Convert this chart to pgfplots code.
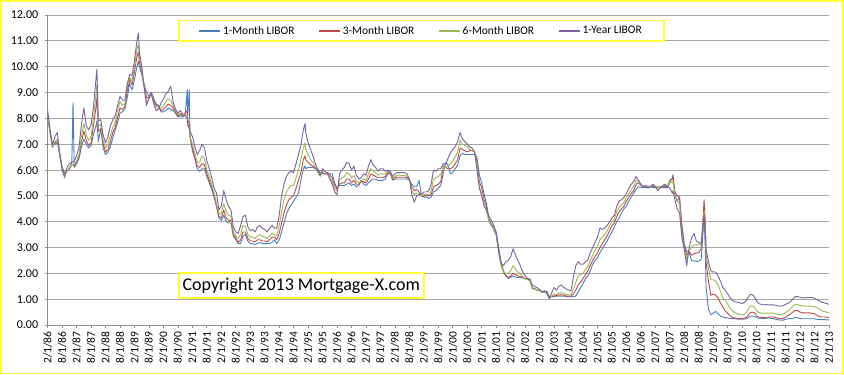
\documentclass[border=0pt]{standalone}
\usepackage{pgfplots}
\pgfplotsset{compat=1.18}
\usepackage{pgfplotstable}
\usepackage{fontspec}
\setmainfont{Carlito}
\definecolor{c1}{HTML}{4A7EBB}
\definecolor{c3}{HTML}{BE4B48}
\definecolor{c6}{HTML}{98B954}
\definecolor{cy}{HTML}{7D60A0}
\definecolor{bord}{HTML}{FFFF33}
\definecolor{gridc}{HTML}{A6A6A6}
\definecolor{axc}{HTML}{8C8C8C}
\pgfplotstableread{
m a b c d
0 8.05 8.05 8.10 8.30
1 7.50 7.45 7.40 7.55
2 6.95 6.90 6.85 6.95
3 7.00 7.05 7.10 7.30
4 7.05 7.10 7.20 7.45
5 6.60 6.60 6.60 6.65
6 6.10 6.05 6.00 6.00
7 5.90 5.85 5.80 5.70
8 5.95 5.95 5.95 6.10
9 6.05 6.05 6.10 6.25
10 6.30 6.20 6.20 6.30
10.5 8.60 6.20 6.22 6.32
11 6.10 6.15 6.20 6.35
12 6.25 6.30 6.35 6.55
13 6.45 6.50 6.60 6.90
14 6.90 7.10 7.30 7.75
15 7.20 7.50 7.80 8.40
16 7.00 7.15 7.35 7.70
17 6.85 6.95 7.15 7.55
18 6.95 7.05 7.30 7.75
19 7.40 7.75 8.00 8.45
20 7.70 8.40 8.90 9.50
20.4 7.90 8.80 9.30 9.90
21 7.10 7.50 7.70 7.90
22 7.60 7.60 7.75 7.95
23 6.85 7.00 7.15 7.35
24 6.60 6.70 6.85 7.05
25 6.70 6.80 7.00 7.30
26 6.90 7.10 7.35 7.70
27 7.25 7.45 7.65 7.95
28 7.55 7.65 7.85 8.10
29 7.85 8.05 8.30 8.50
30 8.20 8.40 8.65 8.85
31 8.25 8.35 8.50 8.70
32 8.35 8.45 8.55 8.70
33 8.80 9.05 9.20 9.35
34 9.35 9.50 9.60 9.70
35 9.10 9.30 9.45 9.65
36 9.50 9.80 10.00 10.25
37 10.00 10.40 10.70 11.00
37.6 10.20 10.55 10.85 11.30
38 10.00 10.20 10.40 10.60
39 9.70 9.80 9.90 10.00
40 9.30 9.25 9.20 9.20
41 9.00 8.80 8.60 8.50
42 8.85 8.80 8.75 8.80
43 9.00 9.00 8.95 8.95
44 8.75 8.70 8.60 8.55
45 8.55 8.50 8.40 8.30
46 8.50 8.45 8.40 8.35
47 8.25 8.30 8.40 8.60
48 8.25 8.35 8.50 8.75
49 8.30 8.45 8.65 8.95
50 8.40 8.55 8.75 9.05
51 8.35 8.50 8.70 9.25
52 8.30 8.40 8.50 8.65
53 8.20 8.25 8.30 8.35
54 8.05 8.10 8.15 8.20
55 8.10 8.15 8.20 8.30
56 8.05 8.10 8.10 8.15
57 8.15 8.20 8.15 8.10
57.9 9.10 8.30 8.10 8.00
58 7.95 7.95 7.85 7.75
58.7 9.10 7.80 7.65 7.60
59 7.35 7.25 7.30 7.50
60 6.75 6.85 7.00 7.30
61 6.45 6.50 6.65 6.90
62 6.05 6.15 6.30 6.60
63 5.95 6.10 6.30 6.75
64 6.05 6.25 6.55 7.00
65 6.05 6.20 6.45 6.85
66 5.75 5.85 6.00 6.35
67 5.50 5.60 5.75 6.05
68 5.25 5.35 5.45 5.70
69 4.95 5.00 5.10 5.30
70 4.60 4.60 4.70 5.10
71 4.15 4.20 4.30 4.45
72 4.05 4.15 4.30 4.60
73 4.25 4.45 4.70 5.20
74 4.00 4.15 4.40 4.85
75 3.95 4.05 4.25 4.60
76 3.95 4.05 4.20 4.45
77 3.45 3.50 3.60 3.80
78 3.30 3.35 3.45 3.60
79 3.15 3.20 3.35 3.55
80 3.15 3.30 3.50 3.85
81 3.45 3.60 3.85 4.20
82 3.50 3.60 3.80 4.25
83 3.25 3.35 3.50 3.80
84 3.15 3.25 3.40 3.65
85 3.15 3.25 3.40 3.70
86 3.12 3.22 3.35 3.60
87 3.15 3.30 3.45 3.80
88 3.20 3.30 3.50 3.85
89 3.15 3.25 3.45 3.75
90 3.15 3.25 3.40 3.70
91 3.15 3.22 3.35 3.60
92 3.15 3.30 3.45 3.75
93 3.20 3.40 3.55 3.85
94 3.30 3.40 3.50 3.75
95 3.15 3.30 3.45 3.75
96 3.30 3.55 3.85 4.25
97 3.60 3.95 4.40 5.00
98 3.95 4.35 4.85 5.45
99 4.30 4.65 5.15 5.75
100 4.50 4.85 5.30 5.90
101 4.65 4.95 5.40 5.95
102 4.80 5.00 5.40 5.90
103 4.95 5.30 5.70 6.25
104 5.10 5.60 6.00 6.60
105 5.60 5.90 6.40 6.95
106 6.05 6.40 6.85 7.55
106.7 6.15 6.55 7.05 7.80
107 6.05 6.40 6.80 7.45
108 6.10 6.30 6.60 7.05
109 6.10 6.20 6.40 6.80
110 6.10 6.15 6.30 6.55
111 6.05 6.05 6.10 6.25
112 6.05 5.95 5.90 6.00
113 5.90 5.80 5.75 5.80
114 5.85 5.90 5.95 6.05
115 5.85 5.85 5.85 5.95
116 5.90 5.90 5.85 5.85
117 5.85 5.80 5.70 5.65
118 5.85 5.70 5.55 5.45
119 5.50 5.40 5.25 5.15
120 5.30 5.25 5.20 5.05
121 5.40 5.45 5.60 5.85
122 5.40 5.50 5.70 6.00
123 5.40 5.50 5.75 6.10
124 5.45 5.65 5.90 6.30
125 5.50 5.65 5.85 6.25
126 5.40 5.50 5.70 6.00
127 5.45 5.60 5.80 6.15
128 5.35 5.45 5.55 5.80
129 5.40 5.45 5.50 5.65
130 5.60 5.55 5.60 5.70
131 5.45 5.55 5.65 5.85
132 5.40 5.50 5.60 5.80
133 5.50 5.65 5.85 6.15
134 5.60 5.85 6.05 6.40
135 5.65 5.80 5.95 6.20
136 5.65 5.75 5.90 6.10
137 5.60 5.70 5.80 5.95
138 5.60 5.70 5.85 6.05
139 5.60 5.70 5.85 6.05
140 5.65 5.75 5.85 5.95
141 5.85 5.90 5.95 6.00
142 5.95 5.85 5.90 5.95
143 5.60 5.65 5.70 5.75
144 5.65 5.70 5.75 5.85
145 5.65 5.72 5.80 5.90
146 5.65 5.72 5.80 5.90
147 5.65 5.72 5.78 5.90
148 5.65 5.72 5.80 5.90
149 5.65 5.70 5.75 5.85
150 5.60 5.65 5.65 5.65
151 5.45 5.35 5.20 5.05
152 5.35 5.20 5.05 4.75
153 5.35 5.25 5.10 5.00
154 5.60 5.15 5.10 5.05
155 5.00 5.00 5.00 5.05
156 4.95 5.00 5.05 5.15
157 4.95 5.00 5.05 5.15
158 4.90 5.00 5.05 5.20
159 4.95 5.05 5.20 5.45
160 5.15 5.35 5.65 6.00
161 5.20 5.40 5.70 5.95
162 5.30 5.45 5.75 6.05
163 5.40 5.55 5.85 6.05
164 5.85 6.15 6.05 6.25
165 6.30 6.10 6.10 6.20
166 6.20 6.05 6.15 6.45
167 5.85 6.05 6.25 6.65
168 5.90 6.10 6.35 6.80
169 6.05 6.25 6.50 6.90
170 6.20 6.40 6.70 7.10
171 6.55 6.85 7.15 7.45
172 6.65 6.80 7.00 7.20
173 6.60 6.75 6.95 7.10
174 6.60 6.70 6.90 7.00
175 6.60 6.75 6.80 6.90
176 6.60 6.75 6.75 6.85
177 6.60 6.70 6.70 6.70
178 6.50 6.35 6.20 6.05
179 5.80 5.55 5.35 5.30
180 5.50 5.30 5.05 5.00
181 5.05 4.85 4.65 4.60
182 4.70 4.55 4.40 4.45
183 4.10 4.05 4.00 4.20
184 3.90 3.85 3.85 4.05
185 3.80 3.70 3.70 3.85
186 3.60 3.50 3.45 3.55
187 3.00 2.90 2.80 2.85
188 2.45 2.35 2.30 2.40
189 2.10 2.05 2.05 2.30
190 1.90 1.90 2.00 2.45
191 1.80 1.85 2.00 2.50
192 1.85 1.90 2.10 2.65
193 1.90 2.00 2.30 2.95
194 1.85 1.95 2.15 2.70
195 1.84 1.90 2.05 2.50
196 1.84 1.88 1.98 2.30
197 1.82 1.85 1.88 2.05
198 1.80 1.80 1.78 1.90
199 1.80 1.79 1.75 1.80
200 1.78 1.75 1.70 1.75
201 1.40 1.42 1.45 1.55
202 1.40 1.40 1.40 1.48
203 1.35 1.35 1.37 1.45
204 1.33 1.34 1.34 1.38
205 1.30 1.28 1.25 1.28
206 1.30 1.29 1.28 1.33
207 1.30 1.26 1.22 1.23
208 1.10 1.05 1.02 1.02
209 1.10 1.10 1.12 1.25
210 1.10 1.13 1.20 1.45
211 1.12 1.14 1.18 1.35
212 1.12 1.16 1.22 1.50
213 1.12 1.17 1.25 1.55
214 1.12 1.16 1.22 1.45
215 1.10 1.12 1.18 1.40
216 1.10 1.12 1.17 1.35
217 1.09 1.11 1.15 1.32
218 1.10 1.20 1.40 1.85
219 1.12 1.35 1.65 2.30
220 1.30 1.55 1.90 2.45
221 1.45 1.65 1.95 2.35
222 1.60 1.80 2.00 2.35
223 1.80 1.95 2.15 2.45
224 1.90 2.10 2.25 2.50
225 2.10 2.30 2.50 2.80
226 2.35 2.50 2.70 3.00
227 2.50 2.65 2.90 3.20
228 2.60 2.80 3.05 3.40
229 2.80 3.00 3.30 3.75
230 2.95 3.15 3.40 3.70
231 3.10 3.30 3.50 3.75
232 3.25 3.45 3.65 3.85
233 3.45 3.65 3.85 4.00
234 3.60 3.85 4.00 4.15
235 3.80 3.95 4.10 4.25
236 4.00 4.20 4.40 4.60
237 4.15 4.40 4.55 4.80
238 4.35 4.50 4.65 4.85
239 4.50 4.60 4.75 4.95
240 4.60 4.80 4.95 5.10
241 4.80 4.95 5.10 5.30
242 4.95 5.10 5.25 5.45
243 5.10 5.20 5.35 5.55
244 5.25 5.45 5.60 5.75
245 5.35 5.50 5.55 5.60
246 5.33 5.40 5.40 5.45
247 5.33 5.37 5.35 5.35
248 5.32 5.37 5.38 5.40
249 5.32 5.37 5.35 5.30
250 5.35 5.36 5.37 5.35
251 5.32 5.36 5.40 5.45
252 5.32 5.35 5.36 5.35
253 5.32 5.34 5.30 5.20
254 5.32 5.35 5.33 5.30
255 5.32 5.36 5.38 5.40
256 5.32 5.36 5.40 5.45
257 5.32 5.36 5.38 5.35
258 5.50 5.60 5.55 5.30
259 5.70 5.65 5.50 5.10
259.3 5.82 5.72 5.55 5.20
260 5.10 5.20 5.10 4.90
261 4.80 5.00 4.80 4.50
262 4.95 4.95 4.70 4.35
263 3.90 3.70 3.50 3.40
264 3.15 3.05 2.95 2.90
265 2.85 2.70 2.55 2.30
266 2.80 2.85 2.90 3.00
267 2.50 2.70 3.00 3.35
268 2.48 2.75 3.10 3.55
269 2.46 2.79 3.10 3.25
270 2.47 2.80 3.10 3.20
271 2.55 2.95 3.15 3.15
272.2 4.20 4.85 4.40 4.30
272.7 3.00 4.00 3.80 3.60
273 1.50 2.45 2.75 2.95
274 0.60 1.70 2.20 2.45
275 0.40 1.15 1.75 2.10
276 0.46 1.20 1.75 2.05
277 0.52 1.15 1.70 2.05
278 0.44 1.05 1.55 1.90
279 0.35 0.85 1.30 1.70
280 0.31 0.70 1.05 1.45
281 0.29 0.55 0.95 1.35
282 0.27 0.45 0.80 1.20
283 0.25 0.35 0.65 1.05
284 0.25 0.30 0.55 0.95
285 0.24 0.27 0.48 0.90
286 0.23 0.25 0.43 0.88
287 0.23 0.25 0.40 0.86
288 0.23 0.25 0.39 0.83
289 0.23 0.27 0.42 0.88
290 0.25 0.31 0.50 0.98
291 0.33 0.45 0.70 1.15
292 0.35 0.50 0.75 1.19
293 0.33 0.48 0.70 1.10
294 0.28 0.35 0.55 0.92
295 0.26 0.30 0.48 0.82
296 0.26 0.29 0.46 0.80
297 0.25 0.29 0.45 0.78
298 0.26 0.30 0.46 0.79
299 0.26 0.30 0.46 0.78
300 0.26 0.31 0.46 0.78
301 0.25 0.31 0.46 0.78
302 0.22 0.28 0.43 0.76
303 0.20 0.26 0.41 0.74
304 0.19 0.25 0.40 0.73
305 0.19 0.25 0.42 0.75
306 0.22 0.30 0.48 0.80
307 0.24 0.36 0.55 0.84
308 0.25 0.42 0.62 0.90
309 0.26 0.50 0.73 1.00
310 0.29 0.57 0.80 1.10
311 0.28 0.56 0.79 1.10
312 0.25 0.50 0.75 1.07
313 0.24 0.47 0.74 1.05
314 0.24 0.47 0.73 1.05
315 0.24 0.47 0.73 1.06
316 0.24 0.47 0.73 1.07
317 0.24 0.45 0.72 1.06
318 0.24 0.43 0.71 1.04
319 0.22 0.38 0.67 0.98
320 0.21 0.33 0.62 0.93
321 0.21 0.31 0.55 0.88
322 0.21 0.31 0.52 0.86
323 0.20 0.30 0.50 0.83
324 0.20 0.29 0.48 0.80
}\libor
\begin{document}
\begin{tikzpicture}
\begin{axis}[
  scale only axis, width=781.3pt, height=310pt,
  xmin=0, xmax=324, ymin=0, ymax=12,
  axis x line*=bottom, axis y line*=left,
  axis line style={draw=axc, line width=0.8pt},
  xtick={0,6,...,324},
  xticklabels={2/1/86,8/1/86,2/1/87,8/1/87,2/1/88,8/1/88,2/1/89,8/1/89,2/1/90,8/1/90,2/1/91,8/1/91,2/1/92,8/1/92,2/1/93,8/1/93,2/1/94,8/1/94,2/1/95,8/1/95,2/1/96,8/1/96,2/1/97,8/1/97,2/1/98,8/1/98,2/1/99,8/1/99,2/1/00,8/1/00,2/1/01,8/1/01,2/1/02,8/1/02,2/1/03,8/1/03,2/1/04,8/1/04,2/1/05,8/1/05,2/1/06,8/1/06,2/1/07,8/1/07,2/1/08,8/1/08,2/1/09,8/1/09,2/1/10,8/1/10,2/1/11,8/1/11,2/1/12,8/1/12,2/1/13},
  ytick={0,1,...,12},
  tick align=outside, major tick length=3pt,
  tick style={draw=axc, line width=0.8pt},
  ymajorgrids, major grid style={draw=gridc, line width=0.8pt},
  /pgf/number format/assume math mode=true,
  yticklabel style={/pgf/number format/fixed, /pgf/number format/fixed zerofill, /pgf/number format/precision=2, font=\fontsize{12}{14}\selectfont, xshift=-3pt},
  xticklabel style={rotate=90, anchor=east, font=\fontsize{11.5}{13}\selectfont},
  legend columns=4,
  legend style={at={(0.1668,0.9839)}, anchor=north west, draw=bord, line width=1.5pt, fill=white,
    font=\fontsize{11.5}{13}\selectfont, inner xsep=20pt, inner ysep=3.5pt,
    /tikz/every even column/.append style={column sep=22pt}},
  legend cell align=left,
  legend image code/.code={\draw[#1, line width=1.3pt] (0pt,0pt) -- (21pt,0pt);},
  every axis plot/.append style={line width=0.9pt, line join=round},
]
\addplot[c1] table[x=m,y=a]{\libor};
\addlegendentry{1-Month LIBOR}
\addplot[c3] table[x=m,y=b]{\libor};
\addlegendentry{3-Month LIBOR}
\addplot[c6] table[x=m,y=c]{\libor};
\addlegendentry{6-Month LIBOR}
\addplot[cy] table[x=m,y=d]{\libor};
\addlegendentry{1-Year LIBOR}
\node[draw=bord, line width=1.5pt, fill=white, anchor=south west, minimum width=245pt, minimum height=25pt, inner sep=0pt, font=\fontsize{18}{20}\selectfont] at (rel axis cs:0.1668,0.0839) {Copyright 2013 Mortgage-X.com};
\end{axis}
\pgfresetboundingbox
\path[use as bounding box] ([shift={(-47.7pt,-50pt)}]current axis.south west) rectangle ([shift={(796.3pt,325pt)}]current axis.south west);
\draw[bord, line width=1.5pt] ([shift={(-46.7pt,-48.7pt)}]current axis.south west) rectangle ([shift={(795.1pt,324pt)}]current axis.south west);
\end{tikzpicture}
\end{document}
